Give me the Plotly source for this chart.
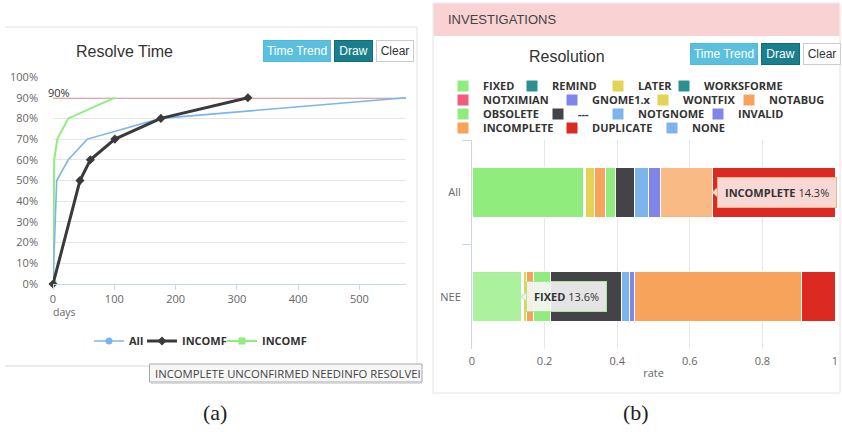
import plotly.graph_objects as go

W, H = 842, 432


def px(x):
    return x / W


def py(y):
    return 1 - y / H


# ---- Resolve time: cumulative share of bugs resolved within N days ----
all_days = [0, 6, 25, 56, 176, 576]
all_pct = [0, 50, 60, 70, 80, 90]
incomf_days = [0, 44, 61, 101, 176, 318]
incomf_pct = [0, 50, 60, 70, 80, 90]
incomf2_days = [0, 2, 7, 25, 101]
incomf2_pct = [0, 60, 70, 80, 90]
target_pct = 90
day_ticks = [0, 100, 200, 300, 400, 500]

# ---- Resolution: share of each resolution per group ----
groups = ["All", "NEE"]
statuses = ["FIXED", "REMIND", "LATER", "WORKSFORME", "NOTXIMIAN", "GNOME1.x",
            "WONTFIX", "NOTABUG", "OBSOLETE", "---", "NOTGNOME", "INVALID",
            "INCOMPLETE", "DUPLICATE", "NONE"]
rate_all = [0.306, 0.001, 0.003, 0.001, 0.0, 0.001, 0.026, 0.031, 0.027,
            0.052, 0.039, 0.032, 0.143, 0.338, 0.0]
rate_nee = [0.136, 0.001, 0.002, 0.001, 0.0, 0.001, 0.008, 0.021, 0.045,
            0.197, 0.022, 0.015, 0.458, 0.093, 0.0]
status_colors = ["#90ed7d", "#2b908f", "#e4d354", "#2b908f", "#f15c80", "#8085e9",
                 "#e4d354", "#f7a35c", "#90ed7d", "#434348", "#7cb5ec", "#8085e9",
                 "#f7a35c", "#dc2a22", "#7cb5ec"]
# highlighted (hovered) segments: (group, status)
hovered = [("All", "INCOMPLETE"), ("NEE", "FIXED")]

# legend placement (pixel row centre, swatch left edge) for each status entry
legend_slots = [(86, 458), (86, 527), (86, 613), (86, 679),
                (100, 458), (100, 567), (100, 658), (100, 744),
                (114, 458), (114, 553), (114, 613), (114, 713),
                (128, 458), (128, 567), (128, 667)]
# text start of the line-chart legend entries
line_legend_text_x = [130, 183, 263]

FONT = "Open Sans"
TICK = dict(family=FONT, size=11, color="#666666")
LEGEND_FONT = dict(family=FONT, size=11, color="#333", weight="bold")

fig = go.Figure()

# ---- left: resolve time lines ----
fig.add_trace(go.Scatter(
    x=incomf2_days, y=incomf2_pct, name="INCOMF", mode="lines+markers",
    line=dict(color="#90ed7d", width=2),
    marker=dict(symbol="square", size=7,
                color=["#90ed7d"] + ["rgba(0,0,0,0)"] * (len(incomf2_days) - 1)),
    legend="legend3", xaxis="x", yaxis="y", hoverinfo="skip"))
fig.add_trace(go.Scatter(
    x=all_days, y=all_pct, name="All", mode="lines+markers",
    line=dict(color="#7cb5ec", width=1.6),
    marker=dict(symbol="circle", size=7,
                color=["#7cb5ec"] + ["rgba(0,0,0,0)"] * (len(all_days) - 1)),
    legend="legend", xaxis="x", yaxis="y", hoverinfo="skip"))
fig.add_trace(go.Scatter(
    x=incomf_days, y=incomf_pct, name="INCOMF", mode="lines+markers",
    line=dict(color="#3a3a3c", width=3),
    marker=dict(symbol="diamond", size=7, color="#3a3a3c"),
    cliponaxis=False,
    legend="legend2", xaxis="x", yaxis="y", hoverinfo="skip"))

legends = {}
for i, tx in enumerate(line_legend_text_x):
    key = "legend" if i == 0 else "legend" + str(i + 1)
    legends[key] = dict(orientation="h", x=px(tx - 41), y=py(341), xanchor="left",
                        yanchor="middle", bgcolor="rgba(0,0,0,0)", font=LEGEND_FONT)

# ---- right: stacked resolution bars ----
for i, st in enumerate(statuses):
    key = "legend" + str(i + 4)
    fig.add_trace(go.Bar(
        y=groups, x=[rate_all[i], rate_nee[i]], name=st, orientation="h",
        marker=dict(color=status_colors[i], line=dict(color="white", width=1)),
        legend=key, xaxis="x2", yaxis="y2", hoverinfo="skip"))
    row_y, sw_x = legend_slots[i]
    legends[key] = dict(orientation="h", x=px(sw_x - 15), y=py(row_y), xanchor="left",
                        yanchor="middle", bgcolor="rgba(0,0,0,0)", font=LEGEND_FONT)

shapes = []
annotations = []

# 90% target line
shapes.append(dict(type="line", xref="x", yref="y", x0=0, x1=all_days[-1],
                   y0=target_pct, y1=target_pct, layer="below",
                   line=dict(color="#e0484a", width=1.5)))
annotations.append(dict(text=f"{target_pct}%", xref="paper", yref="paper",
                        x=px(46), y=py(92), xanchor="left", yanchor="middle",
                        showarrow=False, font=dict(family=FONT, size=11, color="#333")))

# panel (a) frame
frame = "#e2e2e2"
shapes += [
    dict(type="line", xref="paper", yref="paper", x0=px(5), x1=px(417), y0=py(27), y1=py(27),
         line=dict(color=frame, width=1)),
    dict(type="line", xref="paper", yref="paper", x0=px(417), x1=px(417), y0=py(27), y1=py(366),
         line=dict(color=frame, width=1)),
    dict(type="line", xref="paper", yref="paper", x0=px(5), x1=px(150), y0=py(366), y1=py(366),
         line=dict(color="#d6d6d6", width=1)),
]

# panel (b) frame and heading
shapes += [
    dict(type="rect", xref="paper", yref="paper", x0=px(433), x1=px(840), y0=py(393), y1=py(3),
         line=dict(color="#e4e4e4", width=1), fillcolor="rgba(0,0,0,0)"),
    dict(type="rect", xref="paper", yref="paper", x0=px(433.5), x1=px(839.5), y0=py(36), y1=py(3.5),
         line=dict(width=0), fillcolor="#f9d3d3"),
]
annotations.append(dict(text="INVESTIGATIONS", xref="paper", yref="paper", x=px(446), y=py(20),
                        xanchor="left", yanchor="middle", showarrow=False,
                        font=dict(family="Liberation Sans", size=13, color="#444")))

# titles
annotations.append(dict(text="Resolve Time", xref="paper", yref="paper", x=px(124.5), y=py(52),
                        xanchor="center", yanchor="middle", showarrow=False,
                        font=dict(family="Liberation Sans", size=16, color="#333")))
annotations.append(dict(text="Resolution", xref="paper", yref="paper", x=px(566.5), y=py(57),
                        xanchor="center", yanchor="middle", showarrow=False,
                        font=dict(family="Liberation Sans", size=16, color="#333")))


# toolbar buttons
def button(text, x0, x1, y0, y1, bg, fg, border):
    annotations.append(dict(
        text=text, xref="paper", yref="paper", x=px((x0 + x1) / 2), y=py((y0 + y1) / 2),
        xanchor="center", yanchor="middle", showarrow=False,
        width=x1 - x0 - 2, height=y1 - y0 - 2, borderpad=0, borderwidth=1,
        bgcolor=bg, bordercolor=border,
        font=dict(family="Liberation Sans", size=12, color=fg)))


for (bx0, by0) in [(263, 40), (690, 43)]:
    button("Time Trend", bx0, bx0 + 68, by0, by0 + 22, "#5bc0de", "#ffffff", "#52b8d6")
    button("Draw", bx0 + 71, bx0 + 110, by0, by0 + 22, "#197f8c", "#ffffff", "#146a75")
    button("Clear", bx0 + 113, bx0 + 151, by0, by0 + 22, "#ffffff", "#333333", "#cccccc")

# axis caption under the day axis
annotations.append(dict(text="days", xref="paper", yref="paper", x=px(51), y=py(312),
                        xanchor="left", yanchor="middle", showarrow=False,
                        font=dict(family=FONT, size=10.5, color="#666")))

# browser tooltip over the legend names
shapes.append(dict(type="rect", xref="paper", yref="paper", x0=px(149.5), x1=px(422),
                   y0=py(382), y1=py(364), fillcolor="#f6f6f6",
                   line=dict(color="#a8a8a8", width=1)))
shapes.append(dict(type="line", xref="paper", yref="paper", x0=px(151), x1=px(422),
                   y0=py(383), y1=py(383), line=dict(color="#d0d0d0", width=1.5)))
annotations.append(dict(text="INCOMPLETE UNCONFIRMED NEEDINFO RESOLVEI", xref="paper",
                        yref="paper", x=px(153), y=py(373), xanchor="left", yanchor="middle",
                        showarrow=False, font=dict(family=FONT, size=11.3, color="#444")))

# hovered segments: brighten and show a tooltip with a pointer notch
X2_PX = (472, 835)     # pixel span of the rate axis
Y2_PX = (140, 349)     # pixel span of the group axis
rates = {"All": rate_all, "NEE": rate_nee}
tip_style = {
    "All": dict(bg="#f7d8d4", border="#f2b488"),
    "NEE": dict(bg="rgba(246,246,246,0.9)", border="#a9e59a"),
}
for grp, st in hovered:
    gi = groups.index(grp)
    si = statuses.index(st)
    vals = rates[grp]
    start = sum(vals[:si])
    end = start + vals[si]
    shapes.append(dict(type="rect", xref="x2", yref="y2", x0=start, x1=end,
                       y0=gi - 0.235, y1=gi + 0.235, fillcolor="rgba(255,255,255,0.26)",
                       line=dict(width=0), layer="above"))
    label = f"<b>{st}</b> {vals[si] * 100:.1f}%"
    style = tip_style[grp]
    annotations.append(dict(text=label, xref="x2", yref="y2", x=end, y=gi,
                            xanchor="left", yanchor="middle", xshift=5, showarrow=False,
                            bgcolor=style["bg"], bordercolor=style["border"], borderwidth=1,
                            borderpad=7, font=dict(family=FONT, size=11, color="#333")))
    # notch pointing at the segment end
    ex = X2_PX[0] + (X2_PX[1] - X2_PX[0]) * end
    ey = Y2_PX[0] + (Y2_PX[1] - Y2_PX[0]) * (gi + 0.5) / len(groups)
    path = (f"M{px(ex + 5.5)},{py(ey - 5)} L{px(ex)},{py(ey)} "
            f"L{px(ex + 5.5)},{py(ey + 5)} Z")
    shapes.append(dict(type="path", xref="paper", yref="paper", path=path,
                       fillcolor=style["bg"], line=dict(color=style["border"], width=1),
                       layer="above"))

fig.update_layout(
    width=W, height=H, autosize=False,
    margin=dict(l=0, r=0, t=0, b=0, autoexpand=False),
    paper_bgcolor="white", plot_bgcolor="white",
    hovermode=False, barmode="stack", bargap=0.52,
    shapes=shapes, annotations=annotations,
    xaxis=dict(domain=[px(53), px(406)], range=[0, 576], tickvals=day_ticks,
               showgrid=False, zeroline=False, showline=True, linecolor="#ccd6eb",
               ticks="outside", ticklen=5, tickcolor="#ccd6eb", tickfont=TICK,
               anchor="y", fixedrange=True, automargin=False),
    yaxis=dict(domain=[py(284), py(77)], range=[0, 100], dtick=10, ticksuffix="%",
               gridcolor="#e6e6e6", zeroline=False, showline=False, tickfont=TICK,
               ticklabelstandoff=14, anchor="x", fixedrange=True, automargin=False),
    xaxis2=dict(domain=[px(X2_PX[0]), px(X2_PX[1])], range=[0, 1], dtick=0.2,
                gridcolor="#e6e6e6", zeroline=False, showline=False, tickfont=TICK,
                ticklabelstandoff=4,
                title=dict(text="rate", font=dict(family=FONT, size=11, color="#666"), standoff=2),
                anchor="y2", fixedrange=True, automargin=False),
    yaxis2=dict(domain=[py(Y2_PX[1]), py(Y2_PX[0])], type="category", categoryarray=groups,
                categoryorder="array", autorange="reversed", showgrid=False, zeroline=False,
                showline=True, linecolor="#ccd6eb", ticks="outside", ticklen=9,
                tickcolor="#ccd6eb", tickson="boundaries", tickfont=TICK,
                ticklabelstandoff=8,
                anchor="x2", fixedrange=True, automargin=False),
    showlegend=True,
)
fig.update_layout(legends)

# sub-figure captions
for cap, cx in [("(a)", 215), ("(b)", 636)]:
    fig.add_annotation(text=cap, xref="paper", yref="paper", x=px(cx), y=py(412),
                       xanchor="center", yanchor="middle", showarrow=False,
                       font=dict(family="Liberation Serif", size=22, color="#222"))

fig.write_html("out.html")
